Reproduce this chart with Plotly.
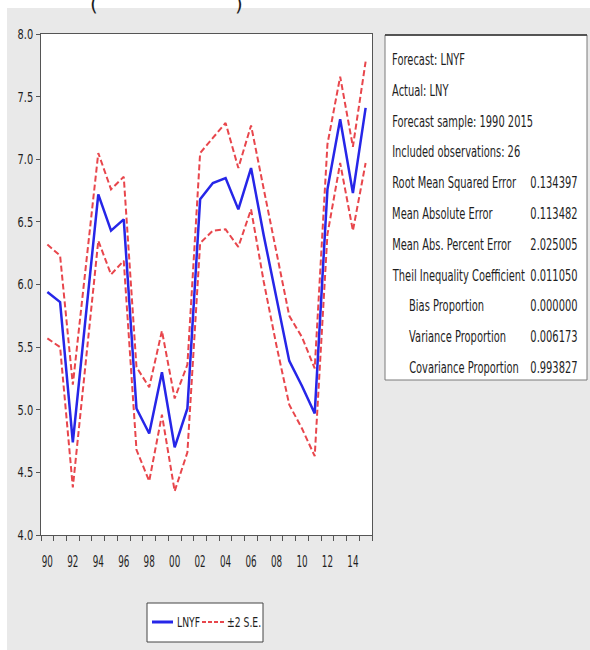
import json
import plotly.graph_objects as go

years = list(range(1990, 2016))
lnyf = [5.94, 5.86, 4.74, 5.75, 6.72, 6.43, 6.52, 5.01, 4.81, 5.30, 4.70, 5.01, 6.68,
        6.81, 6.85, 6.60, 6.93, 6.39, 5.88, 5.39, 5.19, 4.97, 6.76, 7.32, 6.73, 7.41]
upper = [6.32, 6.23, 5.20, 6.12, 7.05, 6.76, 6.86, 5.34, 5.18, 5.63, 5.09, 5.36, 7.05,
         7.17, 7.29, 6.93, 7.27, 6.76, 6.25, 5.75, 5.58, 5.33, 7.12, 7.66, 7.10, 7.78]
lower = [5.57, 5.50, 4.38, 5.38, 6.35, 6.08, 6.19, 4.68, 4.43, 4.96, 4.35, 4.66, 6.33,
         6.43, 6.44, 6.30, 6.60, 6.02, 5.51, 5.04, 4.85, 4.63, 6.40, 6.97, 6.43, 6.97]

x_tick_years = list(range(1990, 2015, 2))
x_tick_labels = [f"{y % 100:02d}" for y in x_tick_years]
y_tick_vals = [4.0, 4.5, 5.0, 5.5, 6.0, 6.5, 7.0, 7.5, 8.0]

header_lines = ["Forecast: LNYF", "Actual: LNY", "Forecast sample: 1990 2015",
                "Included observations: 26"]
stat_names = ["Root Mean Squared Error", "Mean Absolute Error", "Mean Abs. Percent Error",
              "Theil Inequality Coefficient", "Bias Proportion", "Variance Proportion",
              "Covariance Proportion"]
stat_values = ["0.134397", "0.113482", "2.025005", "0.011050", "0.000000",
               "0.006173", "0.993827"]
stat_indent = [False, False, False, False, True, True, True]
legend_labels = ["LNYF", "±2 S.E."]

FONT = "DejaVu Sans, sans-serif"
TXT = "#1e1e1e"
BLUE = "#2626e8"
RED = "#e8464c"
W, H = 590, 650
L, R, T, B = 41, 218, 34, 115
PW, PH = W - L - R, H - T - B


def px(xp):
    return (xp - L) / PW


def py(yp):
    return 1 - (yp - T) / PH


fig = go.Figure()
fig.add_trace(go.Scatter(x=years, y=upper, mode="lines", name=legend_labels[1],
                         line=dict(color=RED, width=2, dash="6px,3px")))
fig.add_trace(go.Scatter(x=years, y=lower, mode="lines", name=legend_labels[1],
                         line=dict(color=RED, width=2, dash="6px,3px")))
fig.add_trace(go.Scatter(x=years, y=lnyf, mode="lines", name=legend_labels[0],
                         line=dict(color=BLUE, width=2.5)))

shapes = [
    # white strips at top and left of the image
    dict(type="rect", xref="paper", yref="paper", x0=px(0), x1=px(W), y0=py(8), y1=py(0),
         fillcolor="white", line=dict(width=0), layer="below"),
    dict(type="rect", xref="paper", yref="paper", x0=px(0), x1=px(7), y0=py(H), y1=py(0),
         fillcolor="white", line=dict(width=0), layer="below"),
    # statistics box
    dict(type="rect", xref="paper", yref="paper", x0=px(385), x1=px(587), y0=py(380), y1=py(35),
         fillcolor="white", line=dict(color="#7a7a7a", width=1)),
    dict(type="line", xref="paper", yref="paper", x0=px(385), x1=px(587), y0=py(35), y1=py(35),
         line=dict(color="#333", width=1.5)),
    # legend box and swatches
    dict(type="rect", xref="paper", yref="paper", x0=px(147), x1=px(263), y0=py(642), y1=py(603),
         fillcolor="white", line=dict(color="#444", width=1)),
    dict(type="line", xref="paper", yref="paper", x0=px(152), x1=px(173), y0=py(622), y1=py(622),
         line=dict(color=BLUE, width=3)),
    dict(type="line", xref="paper", yref="paper", x0=px(202), x1=px(224), y0=py(622), y1=py(622),
         line=dict(color=RED, width=2, dash="4px,2px")),
]

annotations = []
origins = []
line_y0, line_dy = 60, 30.8
rows = [(t, None, False) for t in header_lines] + list(zip(stat_names, stat_values, stat_indent))
for i, (name, val, ind) in enumerate(rows):
    yy = line_y0 + i * line_dy
    annotations.append(dict(xref="paper", yref="paper", x=px(407 if ind else 390), y=py(yy),
                            text=name, showarrow=False, xanchor="left", yanchor="middle",
                            font=dict(family=FONT, size=15, color=TXT)))
    origins.append("left")
    if val is not None:
        annotations.append(dict(xref="paper", yref="paper", x=px(580), y=py(yy),
                                text=val, showarrow=False, xanchor="right", yanchor="middle",
                                font=dict(family=FONT, size=15, color=TXT)))
        origins.append("right")

# legend labels
annotations.append(dict(xref="paper", yref="paper", x=px(175), y=py(622), text=legend_labels[0],
                        showarrow=False, xanchor="left", yanchor="middle",
                        font=dict(family=FONT, size=14, color=TXT)))
origins.append("left")
annotations.append(dict(xref="paper", yref="paper", x=px(225), y=py(622), text=legend_labels[1],
                        showarrow=False, xanchor="left", yanchor="middle",
                        font=dict(family=FONT, size=14, color=TXT)))
origins.append("left")

# cut-off caption parentheses at the very top
annotations.append(dict(xref="paper", yref="paper", x=px(94), y=py(4), text="(",
                        showarrow=False, xanchor="center", yanchor="middle",
                        font=dict(family=FONT, size=20, color=TXT)))
origins.append(None)
annotations.append(dict(xref="paper", yref="paper", x=px(239), y=py(4), text=")",
                        showarrow=False, xanchor="center", yanchor="middle",
                        font=dict(family=FONT, size=20, color=TXT)))
origins.append(None)

fig.update_layout(
    width=W, height=H,
    margin=dict(l=L, r=R, t=T, b=B, pad=0),
    paper_bgcolor="#e9e9e9",
    plot_bgcolor="white",
    shapes=shapes,
    annotations=annotations,
    showlegend=False,
    xaxis=dict(range=[1989.5, 2015.5], tickmode="array", tickvals=x_tick_years,
               ticktext=x_tick_labels, ticks="", showgrid=False, zeroline=False,
               showline=True, linecolor="#555", linewidth=1, mirror=True,
               ticklabelstandoff=12,
               tickfont=dict(family=FONT, size=16, color=TXT),
               minor=dict(tickmode="linear", tick0=1989.5, dtick=1, ticks="outside",
                          ticklen=5, tickcolor="#555", showgrid=False)),
    yaxis=dict(range=[4.0, 8.0], tickmode="array", tickvals=y_tick_vals,
               ticktext=[f"{v:.1f}" for v in y_tick_vals], ticks="outside", ticklen=4,
               tickcolor="#555", showgrid=False, zeroline=False,
               showline=True, linecolor="#555", linewidth=1, mirror=True,
               tickfont=dict(family=FONT, size=14, color=TXT)),
)

post_js = """
document.body.style.margin = '0';
var gd = document.getElementById('{plot_id}');
var origins = ORIGINS;
function sq(t, origin, s) {
  var a = t.getAttribute('transform') || '';
  var css = '';
  var m = a.match(/translate\\(\\s*([-\\d.e]+)[ ,]+([-\\d.e]+)\\s*\\)/);
  if (m) { css = 'translate(' + m[1] + 'px,' + m[2] + 'px) '; }
  else {
    var m1 = a.match(/translate\\(\\s*([-\\d.e]+)\\s*\\)/);
    if (m1) { css = 'translate(' + m1[1] + 'px,0px) '; }
  }
  t.style.transformBox = 'fill-box';
  t.style.transformOrigin = origin + ' center';
  t.style.transform = css + 'scaleX(' + s + ')';
}
function run() {
  for (var i = 0; i < origins.length; i++) {
    if (!origins[i]) continue;
    var g = gd.querySelector('g.annotation[data-index="' + i + '"] text.annotation-text');
    if (g) sq(g, origins[i], 0.66);
  }
  gd.querySelectorAll('g.xtick text').forEach(function (t) { sq(t, 'center', 0.55); });
  gd.querySelectorAll('g.ytick text').forEach(function (t) { sq(t, 'right', 0.7); });
}
run();
""".replace("ORIGINS", json.dumps(origins))

fig.write_html("out.html", post_script=post_js, config={"displayModeBar": False})
